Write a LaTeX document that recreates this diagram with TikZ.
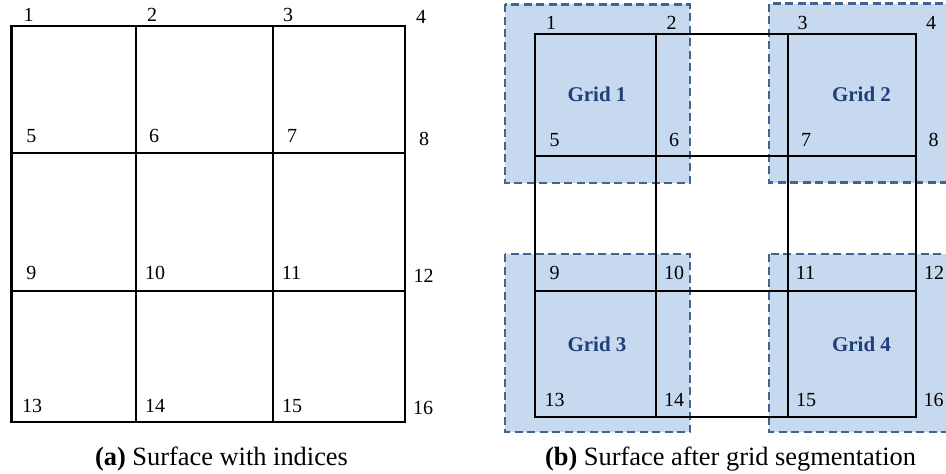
\documentclass[tikz,border=0pt]{standalone}
\usepackage{fontspec}
\setmainfont{Liberation Serif}
\definecolor{gridfill}{HTML}{C7D9EF}
\definecolor{gridedge}{HTML}{41658F}
\definecolor{gridtext}{HTML}{1F3E7A}
\begin{document}
\begin{tikzpicture}[x=1pt,y=-1pt,
  mesh/.style={line width=2.4pt, black},
  idx/.style={font=\fontsize{20}{24}\selectfont, inner sep=0pt},
  region/.style={fill=gridfill, draw=gridedge, line width=2.4pt, dash pattern=on 8pt off 4.5pt},
  regionlabel/.style={font=\fontsize{21}{25}\selectfont\bfseries, text=gridtext, inner sep=0pt},
  caption/.style={font=\fontsize{26.4}{30}\selectfont, anchor=base, inner sep=0pt}]
\useasboundingbox (0,0) rectangle (946,474);

% ---------- (a) surface with indices ----------
\draw[mesh] (11.5,26) rectangle (405,422);
\foreach \x in {136,273} \draw[mesh] (\x,26) -- (\x,422);
\foreach \y in {153,291} \draw[mesh] (11.5,\y) -- (405,\y);

\node[idx] (a1)  at (28.5,15)   {1};
\node[idx] (a2)  at (152,15)    {2};
\node[idx] (a3)  at (288,15)    {3};
\node[idx] (a4)  at (421,16.5)  {4};
\node[idx] (a5)  at (31.5,136)  {5};
\node[idx] (a6)  at (154,136)   {6};
\node[idx] (a7)  at (292,136)   {7};
\node[idx] (a8)  at (424,139)   {8};
\node[idx] (a9)  at (31.5,273)  {9};
\node[idx] (a10) at (155,273)   {10};
\node[idx] (a11) at (291.5,273) {11};
\node[idx] (a12) at (423.5,276) {12};
\node[idx] (a13) at (32,405.5)  {13};
\node[idx] (a14) at (155,405.5) {14};
\node[idx] (a15) at (292,405.5) {15};
\node[idx] (a16) at (423,407.5) {16};

\node[caption] (capa) at (221.5,465) {\textbf{(a)} Surface with indices};

% ---------- (b) surface after grid segmentation ----------
% shaded grid regions
\draw[region] (505,4.3) rectangle (690,182.7);
\draw[region] (769,3.5) rectangle (952,182.5);
\draw[region] (505,254) rectangle (690,432);
\draw[region] (769,254) rectangle (952,432);

% surface mesh
\draw[mesh] (535,33.7) rectangle (915.7,416.7);
\foreach \x in {655.7,787.7} \draw[mesh] (\x,33.7) -- (\x,416.7);
\foreach \y in {155.7,290.7} \draw[mesh] (535,\y) -- (915.7,\y);

\node[idx] (b1)  at (551,23)     {1};
\node[idx] (b2)  at (671.5,22.7) {2};
\node[idx] (b3)  at (802.5,22.5) {3};
\node[idx] (b4)  at (931,22.5)   {4};
\node[idx] (b5)  at (554.5,140)  {5};
\node[idx] (b6)  at (674,140)    {6};
\node[idx] (b7)  at (806,140)    {7};
\node[idx] (b8)  at (933.5,140)  {8};
\node[idx] (b9)  at (554.5,272.7) {9};
\node[idx] (b10) at (674,272.7)  {10};
\node[idx] (b11) at (805.5,272.7) {11};
\node[idx] (b12) at (934,272.7)  {12};
\node[idx] (b13) at (554.5,400)  {13};
\node[idx] (b14) at (674,400)    {14};
\node[idx] (b15) at (806,400)    {15};
\node[idx] (b16) at (933.5,400)  {16};

\node[regionlabel] (g1) at (597,94)     {Grid 1};
\node[regionlabel] (g2) at (861.5,94)   {Grid 2};
\node[regionlabel] (g3) at (597,344.5)  {Grid 3};
\node[regionlabel] (g4) at (861.5,344.5) {Grid 4};

\node[caption] (capb) at (730.5,465) {\textbf{(b)} Surface after grid segmentation};
\end{tikzpicture}
\end{document}
